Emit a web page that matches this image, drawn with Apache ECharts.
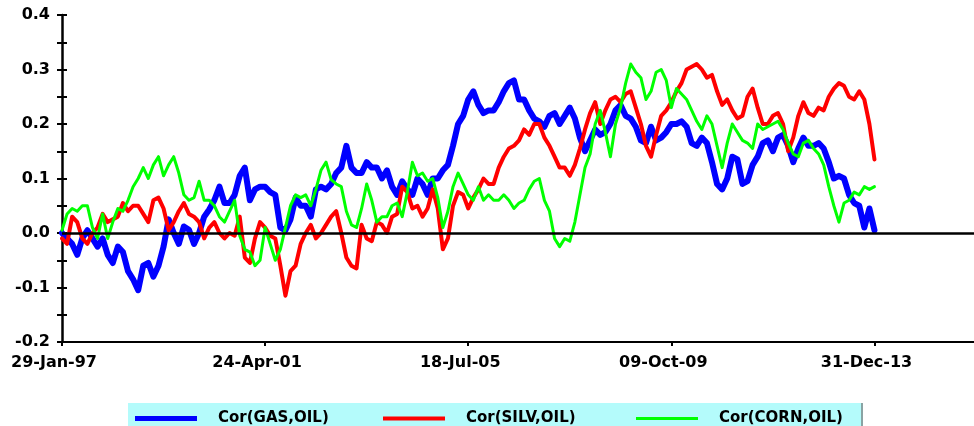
<!DOCTYPE html>
<html>
<head>
<meta charset="utf-8">
<title>Correlations with oil</title>
<script src="https://cdn.jsdelivr.net/npm/echarts@6/dist/echarts.min.js"></script>
<style>
    html, body { margin: 0; padding: 0; background: #fff; }
    #chart { width: 974px; height: 426px; }
</style>
</head>
<body>
<div id="chart"></div>
<script>
// tick labels on the date axis, one every tick step
const tickLabels = ['29-Jan-97', '24-Apr-01', '18-Jul-05', '09-Oct-09', '31-Dec-13'];
// samples per tick step on the date axis
const samplesPerTick = 40;

const seriesNames = ['Cor(GAS,OIL)', 'Cor(SILV,OIL)', 'Cor(CORN,OIL)'];

const gas = [
    0.0, -0.01, -0.02, -0.04, -0.01, 0.005, -0.01, -0.025, -0.01, -0.04, -0.055, -0.025, -0.035, -0.07, -0.085, -0.105,
    -0.06, -0.055, -0.08, -0.06, -0.025, 0.025, 0.0, -0.02, 0.012, 0.006, -0.02, 0.0, 0.03, 0.043, 0.06, 0.085, 0.055,
    0.055, 0.07, 0.105, 0.12, 0.06, 0.08, 0.085, 0.085, 0.075, 0.07, 0.01, 0.005, 0.025, 0.065, 0.05, 0.05, 0.03,
    0.08, 0.085, 0.08, 0.09, 0.11, 0.12, 0.16, 0.12, 0.11, 0.11, 0.13, 0.12, 0.12, 0.1, 0.115, 0.085,
    0.07, 0.095, 0.08, 0.07, 0.1, 0.09, 0.07, 0.1, 0.1, 0.115, 0.125, 0.16, 0.2, 0.215, 0.245, 0.26,
    0.235, 0.22, 0.225, 0.225, 0.24, 0.26, 0.275, 0.28, 0.245, 0.245, 0.225, 0.21, 0.205, 0.195, 0.215, 0.22,
    0.2, 0.215, 0.23, 0.21, 0.175, 0.15, 0.17, 0.19, 0.18, 0.185, 0.2, 0.225, 0.235, 0.215, 0.21, 0.195,
    0.17, 0.165, 0.195, 0.17, 0.175, 0.185, 0.2, 0.2, 0.205, 0.195, 0.165, 0.16, 0.175, 0.165, 0.13, 0.09, 0.08,
    0.1, 0.14, 0.135, 0.09, 0.095, 0.125, 0.14, 0.165, 0.17, 0.15, 0.175, 0.18, 0.16, 0.13, 0.155,
    0.175, 0.16, 0.16, 0.165, 0.155, 0.13, 0.1, 0.105, 0.1, 0.07, 0.055, 0.05, 0.01, 0.045, 0.005
];

const silv = [
    -0.01, -0.02, 0.03, 0.02, -0.01, -0.02, 0.0, 0.01, 0.035, 0.02, 0.025, 0.03, 0.055, 0.04, 0.05, 0.05,
    0.035, 0.02, 0.06, 0.065, 0.045, 0.005, 0.02, 0.04, 0.055, 0.035, 0.03, 0.02, -0.01, 0.01, 0.02, 0.0, -0.01,
    0.0, -0.005, 0.03, -0.045, -0.055, -0.01, 0.02, 0.01, -0.005, -0.01, -0.06, -0.115, -0.07, -0.06, -0.02, 0.0,
    0.015, -0.01, 0.0, 0.015, 0.03, 0.04, 0.0, -0.045, -0.06, -0.065, 0.015, -0.01, -0.015, 0.02, 0.015, 0.0, 0.03,
    0.035, 0.085, 0.075, 0.045, 0.05, 0.03, 0.045, 0.08, 0.045, -0.03, -0.01, 0.05, 0.075, 0.07, 0.045, 0.065,
    0.08, 0.1, 0.09, 0.09, 0.12, 0.14, 0.155, 0.16, 0.17, 0.19, 0.18, 0.2, 0.2, 0.175, 0.16, 0.14,
    0.12, 0.12, 0.105, 0.125, 0.155, 0.19, 0.22, 0.24, 0.2, 0.225, 0.245, 0.25, 0.24, 0.255, 0.26, 0.23,
    0.2, 0.16, 0.14, 0.18, 0.215, 0.225, 0.24, 0.26, 0.275, 0.3, 0.305, 0.31, 0.3, 0.285, 0.29, 0.26, 0.235,
    0.245, 0.225, 0.21, 0.215, 0.25, 0.265, 0.23, 0.2, 0.2, 0.215, 0.22, 0.2, 0.15, 0.175, 0.215,
    0.24, 0.22, 0.215, 0.23, 0.225, 0.25, 0.265, 0.275, 0.27, 0.25, 0.245, 0.26, 0.245, 0.2, 0.135
];

const corn = [
    0.005, 0.035, 0.045, 0.04, 0.05, 0.05, 0.01, -0.01, 0.035, -0.01, 0.02, 0.045, 0.04, 0.06, 0.085, 0.1,
    0.12, 0.1, 0.125, 0.14, 0.105, 0.125, 0.14, 0.11, 0.07, 0.06, 0.065, 0.095, 0.06, 0.06, 0.05, 0.03, 0.02,
    0.04, 0.06, -0.005, -0.03, -0.035, -0.06, -0.05, 0.01, -0.02, -0.05, -0.03, 0.01, 0.05, 0.07, 0.065, 0.07,
    0.05, 0.08, 0.115, 0.13, 0.098, 0.09, 0.085, 0.04, 0.015, 0.01, 0.045, 0.09, 0.06, 0.02, 0.03, 0.03, 0.05,
    0.055, 0.03, 0.075, 0.13, 0.105, 0.11, 0.095, 0.1, 0.065, 0.01, 0.04, 0.085, 0.11, 0.09, 0.07, 0.06,
    0.085, 0.06, 0.07, 0.06, 0.06, 0.07, 0.06, 0.045, 0.055, 0.06, 0.08, 0.095, 0.1, 0.06, 0.04, -0.01,
    -0.025, -0.01, -0.015, 0.02, 0.07, 0.12, 0.145, 0.2, 0.225, 0.185, 0.14, 0.2, 0.23, 0.275, 0.31, 0.295,
    0.285, 0.245, 0.26, 0.295, 0.3, 0.28, 0.23, 0.265, 0.255, 0.245, 0.225, 0.205, 0.19, 0.215, 0.2, 0.16, 0.12,
    0.165, 0.2, 0.185, 0.17, 0.165, 0.155, 0.2, 0.19, 0.195, 0.2, 0.205, 0.19, 0.165, 0.145, 0.14,
    0.165, 0.17, 0.155, 0.145, 0.125, 0.085, 0.05, 0.02, 0.055, 0.06, 0.075, 0.07, 0.085, 0.08, 0.085
];

const colors = ['#0000ff', '#ff0000', '#00ff00'];
const lineWidths = [6, 4, 3];
const legendIconHeights = [5, 4, 3];
const legendLefts = [130, 378, 631];
const font = 'DejaVu Sans, Verdana, sans-serif';

// pair every sample with its place on the date axis
function toPoints(values) {
    return values.map((v, i) => [i / samplesPerTick, v]);
}

const chart = echarts.init(document.getElementById('chart'), null, { renderer: 'canvas' });

const series = [gas, silv, corn].map((values, k) => ({
    name: seriesNames[k],
    type: 'line',
    data: toPoints(values),
    showSymbol: false,
    symbol: 'none',
    lineStyle: { color: colors[k], width: lineWidths[k], join: 'round', cap: 'round' },
    itemStyle: { color: colors[k] },
    z: 2 + k
}));

// black zero line on top of the data
series[2].markLine = {
    silent: true,
    symbol: 'none',
    label: { show: false },
    animation: false,
    lineStyle: { color: '#000', width: 2.5, type: 'solid' },
    data: [{ yAxis: 0 }]
};

// one legend per item so each sits where the original puts it
const legends = seriesNames.map((name, k) => ({
    data: [name],
    left: legendLefts[k],
    top: 406,
    icon: 'rect',
    itemWidth: 62,
    itemHeight: legendIconHeights[k],
    selectedMode: false,
    textStyle: {
        fontFamily: font,
        fontWeight: 'bold',
        fontSize: 15,
        color: '#000',
        padding: [0, 0, 0, 16]
    }
}));

const yCommon = {
    type: 'value',
    min: -0.2,
    max: 0.4,
    interval: 0.1,
    splitLine: { show: false },
    minorSplitLine: { show: false }
};

chart.setOption({
    animation: false,
    backgroundColor: '#ffffff',
    grid: { left: 62, right: 0, top: 15, bottom: 84, containLabel: false },
    graphic: [
        {
            type: 'rect',
            shape: { x: 128, y: 403, width: 734, height: 30 },
            style: { fill: '#b4fbfb' },
            z: 0
        },
        {
            type: 'rect',
            shape: { x: 861, y: 403, width: 2, height: 30 },
            style: { fill: '#8aa3a3' },
            z: 1
        }
    ],
    legend: legends,
    xAxis: {
        type: 'value',
        min: 0,
        max: 4.49,
        interval: 1,
        axisLine: { onZero: false, lineStyle: { color: '#000', width: 2 } },
        axisTick: { show: true, length: 4, lineStyle: { color: '#000', width: 2 } },
        splitLine: { show: false },
        axisLabel: {
            margin: 13,
            showMaxLabel: false,
            fontFamily: font,
            fontWeight: 'bold',
            fontSize: 16,
            color: '#000',
            padding: [0, 16, 0, 0],
            formatter: (v) => tickLabels[Math.round(v)] !== undefined && Math.abs(v - Math.round(v)) < 1e-6
                ? tickLabels[Math.round(v)] : ''
        }
    },
    yAxis: [
        Object.assign({}, yCommon, {
            axisLine: { show: true, lineStyle: { color: '#000', width: 2.5 } },
            axisTick: { show: true, length: 5, lineStyle: { color: '#000', width: 2 } },
            minorTick: { show: true, splitNumber: 2, length: 5, lineStyle: { color: '#000', width: 2 } },
            axisLabel: {
                margin: 12,
                fontFamily: font,
                fontWeight: 'bold',
                fontSize: 16,
                color: '#000',
                formatter: (v) => v.toFixed(1)
            }
        }),
        // inner half of the crossing tick marks
        Object.assign({}, yCommon, {
            position: 'left',
            axisLine: { show: false },
            axisTick: { show: true, inside: true, length: 5, lineStyle: { color: '#000', width: 2 } },
            minorTick: { show: true, splitNumber: 2, length: 5, lineStyle: { color: '#000', width: 2 } },
            axisLabel: { show: false }
        })
    ],
    series: series
});
</script>
</body>
</html>
